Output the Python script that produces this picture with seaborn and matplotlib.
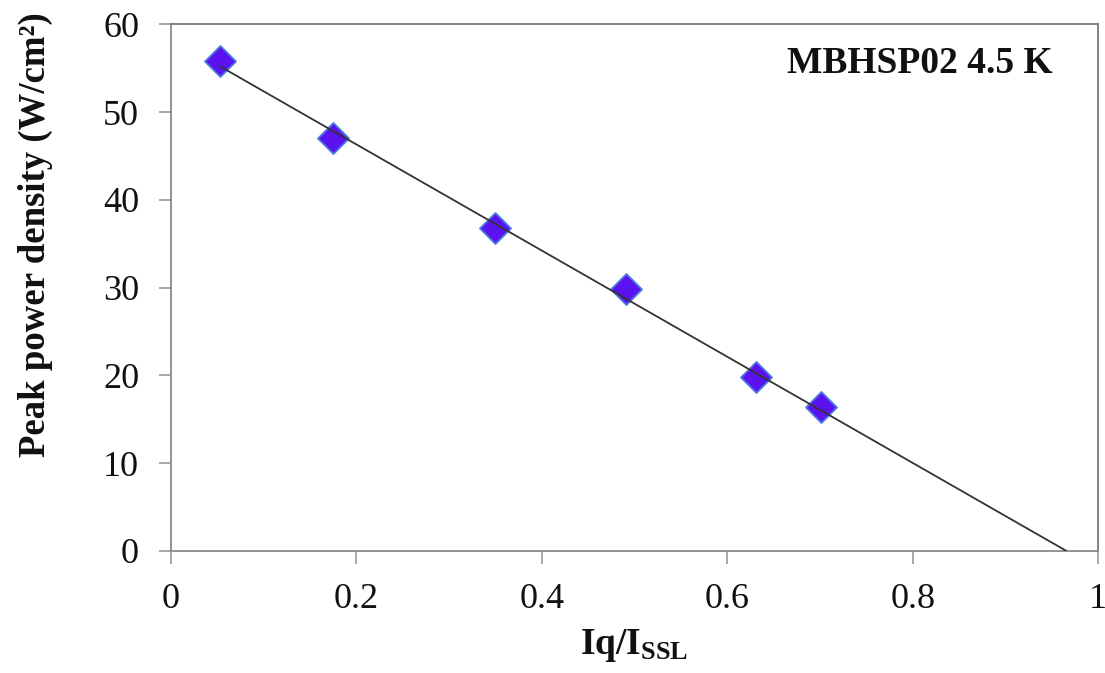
import matplotlib
matplotlib.use("Agg")
import matplotlib.pyplot as plt
import seaborn as sns
import pandas as pd

# Data
iq_ratio = [0.053, 0.175, 0.350, 0.491, 0.631, 0.701]
peak_power = [55.8, 47.1, 36.8, 29.8, 19.8, 16.4]
fit_x = [0.053, 0.966]
fit_y = [55.2, 0.0]
x_ticks = [0, 0.2, 0.4, 0.6, 0.8, 1]
x_tick_labels = ["0", "0.2", "0.4", "0.6", "0.8", "1"]
y_ticks = [0, 10, 20, 30, 40, 50, 60]

sns.set_theme(style="white")
plt.rcParams["font.family"] = ["Liberation Serif", "DejaVu Serif"]
plt.rcParams["mathtext.fontset"] = "custom"
plt.rcParams["mathtext.rm"] = "Liberation Serif"
plt.rcParams["mathtext.bf"] = "Liberation Serif:bold"
plt.rcParams["mathtext.it"] = "Liberation Serif:italic"

fig = plt.figure(figsize=(11.05, 6.73), dpi=100)
ax = fig.add_axes([0.1548, 0.1813, 0.8389, 0.7826])

df = pd.DataFrame({"x": iq_ratio, "y": peak_power})
fit = pd.DataFrame({"x": fit_x, "y": fit_y})

sns.scatterplot(data=df, x="x", y="y", marker="D", s=250, color="#5A12EE",
                edgecolor="#4C7BE3", linewidth=1.3, ax=ax, zorder=2, legend=False)
sns.lineplot(data=fit, x="x", y="y", color="#333333", linewidth=1.3, ax=ax,
             zorder=3, legend=False)

ax.set_xlim(0, 1)
ax.set_ylim(0, 60)
ax.set_xticks(x_ticks)
ax.set_xticklabels(x_tick_labels)
ax.set_yticks(y_ticks)
ax.tick_params(axis="both", which="major", direction="out", length=9, width=1.2,
               color="#999999", labelsize=26, labelcolor="#111111", pad=14,
               bottom=True, left=True)

for side, spine in ax.spines.items():
    spine.set_visible(True)
    spine.set_linewidth(1.3)
    spine.set_color("#8a8a8a" if side in ("left", "bottom") else "#777777")

ax.set_xlabel(r"$\mathbf{Iq/I_{SSL}}$", fontsize=27, labelpad=8, color="#111111")
ax.set_ylabel("Peak power density (W/cm²)", fontsize=26.5, fontweight="bold",
              color="#111111")
ax.yaxis.set_label_coords(-0.127, 0.60)

ax.text(0.665, 0.925, "MBHSP02 4.5 K", transform=ax.transAxes, fontsize=27,
        fontweight="bold", ha="left", va="center", color="#111111")

fig.savefig("out.png", dpi=100)
